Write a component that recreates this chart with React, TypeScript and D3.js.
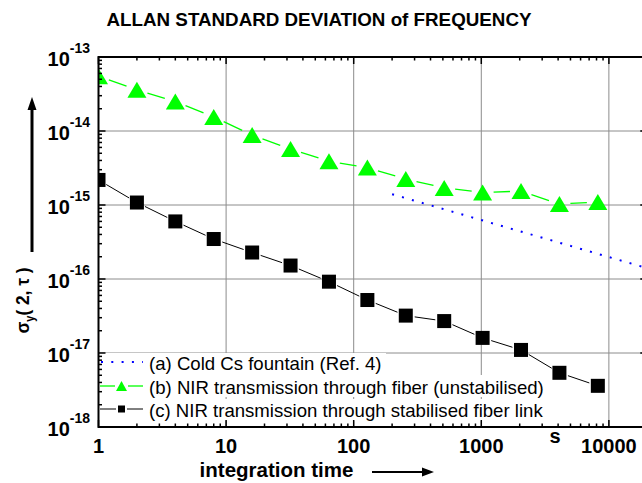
import React from "react";
import * as d3 from "d3";

// averaging times (s) and Allan deviation
const tau = [1, 2, 4, 8, 16, 32, 64, 128, 256, 512, 1024, 2048, 4096, 8192];
const unstabilised = [
  5.5e-14, 3.6e-14, 2.5e-14, 1.55e-14, 8.8e-15, 5.7e-15, 3.9e-15,
  3.2e-15, 2.24e-15, 1.7e-15, 1.48e-15, 1.54e-15, 1.03e-15, 1.1e-15,
];
const stabilised = [
  2.18e-15, 1.08e-15, 6.0e-16, 3.47e-16, 2.28e-16, 1.52e-16, 9.2e-17,
  5.2e-17, 3.2e-17, 2.7e-17, 1.6e-17, 1.1e-17, 5.4e-18, 3.6e-18,
];
const fountainTau = [200, 20000];
const fountain = [1.4e-15, 1.4e-16];

const xTicks = [1, 10, 100, 1000, 10000];
const xTickLabels = ["1", "10", "100", "1000", "10000"];
const yExps = [-13, -14, -15, -16, -17, -18];
const legendLabels = [
  "(a) Cold Cs fountain (Ref. 4)",
  "(b) NIR transmission through fiber (unstabilised)",
  "(c) NIR transmission through stabilised fiber link",
];

const FONT = "'Liberation Sans', Arial, Helvetica, sans-serif";

// line pieces between markers, leaving a small gap round each symbol
function gappedSegments(pts: number[][], gap: number) {
  const segs: number[][] = [];
  for (let i = 0; i < pts.length - 1; i++) {
    const [x1, y1] = pts[i];
    const [x2, y2] = pts[i + 1];
    const dx = x2 - x1, dy = y2 - y1;
    const L = Math.hypot(dx, dy);
    if (L <= 2 * gap) continue;
    const ux = dx / L, uy = dy / L;
    segs.push([x1 + ux * gap, y1 + uy * gap, x2 - ux * gap, y2 - uy * gap]);
  }
  return segs;
}

function triangle(cx: number, cy: number, w: number, h: number) {
  return `M${cx},${cy - h / 2}L${cx + w / 2},${cy + h / 2}L${cx - w / 2},${cy + h / 2}Z`;
}

export default function App() {
  const left = 98.5, right = 647.3, top = 57, bottom = 427;
  const x = d3.scaleLog().domain([1, 20000]).range([left, right]);
  const y = d3.scaleLog().domain([1e-18, 1e-13]).range([bottom, top]);

  const isMajor = (v: number) =>
    Math.abs(Math.log10(v) - Math.round(Math.log10(v))) < 1e-9;
  const xAll = x.ticks().filter((v) => x(v) <= right);
  const yAll = y.ticks();

  const greenPts = tau.map((t, i) => [x(t), y(unstabilised[i])]);
  const blackPts = tau.map((t, i) => [x(t), y(stabilised[i])]);
  const fountainLine = d3
    .line<number>()
    .x((d, i) => x(fountainTau[i]))
    .y((d) => y(d))(fountain);

  const legendY = [362, 386, 409];
  const boxTop = [353, 375, 399];
  const boxRight = [386, 551, 551];

  return (
    <svg
      width={642}
      height={483}
      style={{ position: "absolute", left: 0, top: 0, background: "#fff" }}
      fontFamily={FONT}
    >
      <defs>
        <clipPath id="plot">
          <rect x={left} y={top} width={right - left} height={bottom - top} />
        </clipPath>
      </defs>
      <rect width={642} height={483} fill="#fff" />

      <text x={319} y={26} textAnchor="middle" fontSize={18.8} fontWeight="bold">
        ALLAN STANDARD DEVIATION of FREQUENCY
      </text>

      {/* grid */}
      <g stroke="#8c8c8c" strokeWidth={1}>
        {xTicks.slice(1).map((v) => (
          <line key={"gx" + v} x1={x(v)} x2={x(v)} y1={top} y2={bottom} />
        ))}
        {yExps.slice(1, -1).map((e) => (
          <line key={"gy" + e} x1={left} x2={right} y1={y(Math.pow(10, e))} y2={y(Math.pow(10, e))} />
        ))}
      </g>

      <g clipPath="url(#plot)">
        <path d={fountainLine || ""} fill="none" stroke="#0000ff" strokeWidth={2} strokeDasharray="2 8.3" />
        {gappedSegments(greenPts, 11).map((s, i) => (
          <line key={"gs" + i} x1={s[0]} y1={s[1]} x2={s[2]} y2={s[3]} stroke="#00ff00" strokeWidth={1.3} />
        ))}
        {greenPts.map((p, i) => (
          <path key={"gt" + i} d={triangle(p[0], p[1], 19, 16)} fill="#00ff00" />
        ))}
        {gappedSegments(blackPts, 9).map((s, i) => (
          <line key={"bs" + i} x1={s[0]} y1={s[1]} x2={s[2]} y2={s[3]} stroke="#000" strokeWidth={1} />
        ))}
        {blackPts.map((p, i) => (
          <rect key={"bq" + i} x={p[0] - 7} y={p[1] - 7} width={14} height={14} fill="#000" />
        ))}
      </g>

      {/* legend */}
      {legendY.map((ly, i) => (
        <rect key={"lb" + i} x={left + 1} y={boxTop[i]} width={boxRight[i] - left - 1} height={22} fill="#fff" />
      ))}
      <line x1={101} x2={143} y1={legendY[0]} y2={legendY[0]} stroke="#0000ff" strokeWidth={2} strokeDasharray="2 8.3" />
      <line x1={100} x2={115} y1={legendY[1]} y2={legendY[1]} stroke="#00ff00" strokeWidth={1.3} />
      <line x1={128} x2={143} y1={legendY[1]} y2={legendY[1]} stroke="#00ff00" strokeWidth={1.3} />
      <path d={triangle(121.5, legendY[1], 11, 10)} fill="#00ff00" />
      <line x1={100} x2={116} y1={legendY[2]} y2={legendY[2]} stroke="#000" strokeWidth={1} />
      <line x1={127} x2={143} y1={legendY[2]} y2={legendY[2]} stroke="#000" strokeWidth={1} />
      <rect x={118} y={legendY[2] - 3.5} width={7} height={7} fill="#000" />
      {legendLabels.map((t, i) => (
        <text key={"lt" + i} x={149} y={legendY[i] + 8} fontSize={18.6}>
          {t}
        </text>
      ))}

      {/* frame and ticks */}
      <g stroke="#000" strokeWidth={1.5}>
        {xAll.map((v) => {
          const len = isMajor(v) ? 7 : 3.5;
          return (
            <g key={"xt" + v}>
              <line x1={x(v)} x2={x(v)} y1={bottom} y2={bottom - len} />
              <line x1={x(v)} x2={x(v)} y1={top} y2={top + len} />
            </g>
          );
        })}
        {yAll.map((v, i) => {
          const len = isMajor(v) ? 7 : 3.5;
          return (
            <g key={"yt" + i}>
              <line x1={left} x2={left + len} y1={y(v)} y2={y(v)} />
              <line x1={right} x2={right - len} y1={y(v)} y2={y(v)} />
            </g>
          );
        })}
      </g>
      <rect x={left} y={top} width={right - left} height={bottom - top} fill="none" stroke="#000" strokeWidth={2} />

      {/* tick labels */}
      {xTicks.map((v, i) => (
        <text key={"xl" + v} x={x(v)} y={453} textAnchor="middle" fontSize={20} fontWeight="bold">
          {xTickLabels[i]}
        </text>
      ))}
      <text x={555} y={443} textAnchor="middle" fontSize={20} fontWeight="bold">s</text>
      {yExps.map((e) => (
        <text key={"yl" + e} x={90} y={y(Math.pow(10, e)) + 9} textAnchor="end" fontWeight="bold">
          <tspan fontSize={20}>10</tspan>
          <tspan fontSize={14} dy={-13}>{String(e)}</tspan>
        </text>
      ))}

      {/* axis titles */}
      <text x={276.5} y={477} textAnchor="middle" fontSize={20.5} fontWeight="bold">
        integration time
      </text>
      <line x1={372} x2={424} y1={472} y2={472} stroke="#000" strokeWidth={2} />
      <path d="M434,472L422,467.5L422,476.5Z" fill="#000" />

      <text transform="translate(29,300.5) rotate(-90)" textAnchor="middle" fontSize={19} fontWeight="bold" textLength={66} lengthAdjust="spacingAndGlyphs">
        σ<tspan fontSize={12} dy={5}>y</tspan>
        <tspan dy={-5}>( 2, τ )</tspan>
      </text>
      <line x1={32} x2={32} y1={252} y2={106} stroke="#000" strokeWidth={3} />
      <path d="M32,97L27.5,110L36.5,110Z" fill="#000" />
    </svg>
  );
}
